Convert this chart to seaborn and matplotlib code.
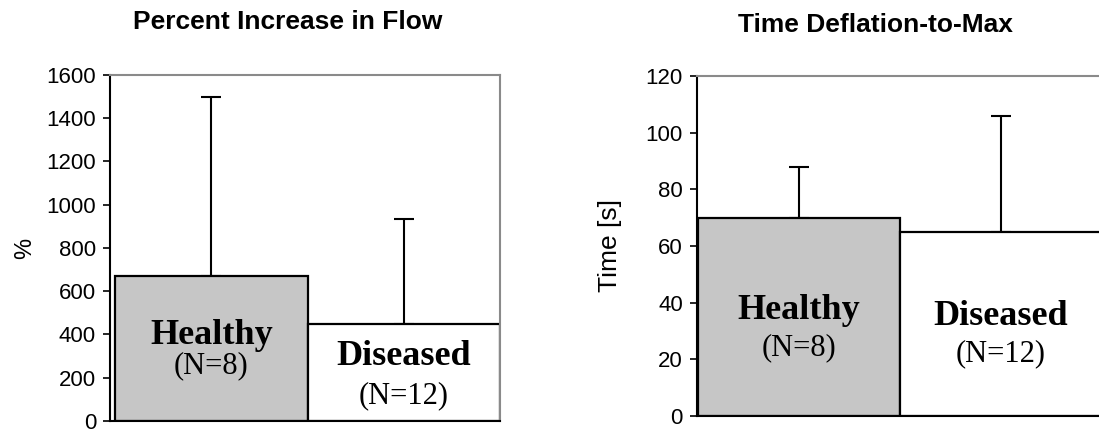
import matplotlib
matplotlib.use("Agg")
import matplotlib.pyplot as plt
import seaborn as sns
import pandas as pd

groups = ["Healthy", "Diseased"]
group_n = ["(N=8)", "(N=12)"]

flow_mean = [670, 450]
flow_err = [830, 485]
flow_ticks = [0, 200, 400, 600, 800, 1000, 1200, 1400, 1600]

time_mean = [70, 65]
time_err = [18, 41]
time_ticks = [0, 20, 40, 60, 80, 100, 120]

titles = ["Percent Increase in Flow", "Time Deflation-to-Max"]
ylabels = ["%", "Time [s]"]

sns.set_style("ticks")
plt.rcParams["font.family"] = ["Liberation Sans", "DejaVu Sans"]
plt.rcParams["text.color"] = "black"
plt.rcParams["axes.labelcolor"] = "black"
plt.rcParams["xtick.color"] = "black"
plt.rcParams["ytick.color"] = "black"

fig = plt.figure(figsize=(10.99, 4.34), dpi=100)
ax1 = fig.add_axes([0.1001, 0.0300, 0.3549, 0.7972])
ax2 = fig.add_axes([0.634, 0.0415, 0.378, 0.7834])

colors = ["#c6c6c6", "#ffffff"]


def panel(ax, means, errs, ticks, ylabel, xlim, label_y, n_y, ylabel_x, ylabel_size):
    df = pd.DataFrame({"group": groups, "value": means})
    sns.barplot(data=df, x="group", y="value", hue="group", palette=colors,
                width=1.0, edgecolor="black", linewidth=1.6, legend=False,
                ax=ax, zorder=2)
    ax.errorbar([0, 1], means, yerr=[[0, 0], errs], fmt="none",
                ecolor="black", elinewidth=1.5, capsize=7, capthick=1.5,
                zorder=1)
    ax.set_xlim(*xlim)
    ax.set_ylim(ticks[0], ticks[-1])
    ax.set_yticks(ticks)
    ax.set_yticklabels([str(t) for t in ticks], fontsize=16, color="black")
    ax.set_xticks([])
    ax.set_xlabel("")
    ax.set_ylabel(ylabel, fontsize=ylabel_size, color="black")
    ax.yaxis.set_label_coords(ylabel_x, 0.5)
    ax.tick_params(axis="y", direction="out", length=5, width=1.2,
                   color="black", pad=5)
    for side in ["left", "bottom"]:
        ax.spines[side].set_color("black")
        ax.spines[side].set_linewidth(1.5)
    for side in ["top", "right"]:
        ax.spines[side].set_visible(True)
        ax.spines[side].set_color("#8a8a8a")
        ax.spines[side].set_linewidth(1.5)
    for i in range(2):
        ax.text(i, label_y[i], groups[i], ha="center", va="center",
                fontsize=26, fontweight="bold", family="Liberation Serif",
                color="black", zorder=5)
        ax.text(i, n_y[i], group_n[i], ha="center", va="center",
                fontsize=22, family="Liberation Serif", color="black",
                zorder=5)


panel(ax1, flow_mean, flow_err, flow_ticks, ylabels[0], (-0.526, 1.5),
      [397, 300], [254, 117], -0.19, 17)
panel(ax2, time_mean, time_err, time_ticks, ylabels[1], (-0.505, 1.55),
      [37.4, 35], [24, 22], -0.18, 19)

fig.text(288 / 1099, 1 - 22 / 434, titles[0], ha="center", va="center",
         fontsize=19, fontweight="bold", color="black")
fig.text(875 / 1099, 1 - 25 / 434, titles[1], ha="center", va="center",
         fontsize=19, fontweight="bold", color="black")

fig.savefig("out.png", dpi=100)
